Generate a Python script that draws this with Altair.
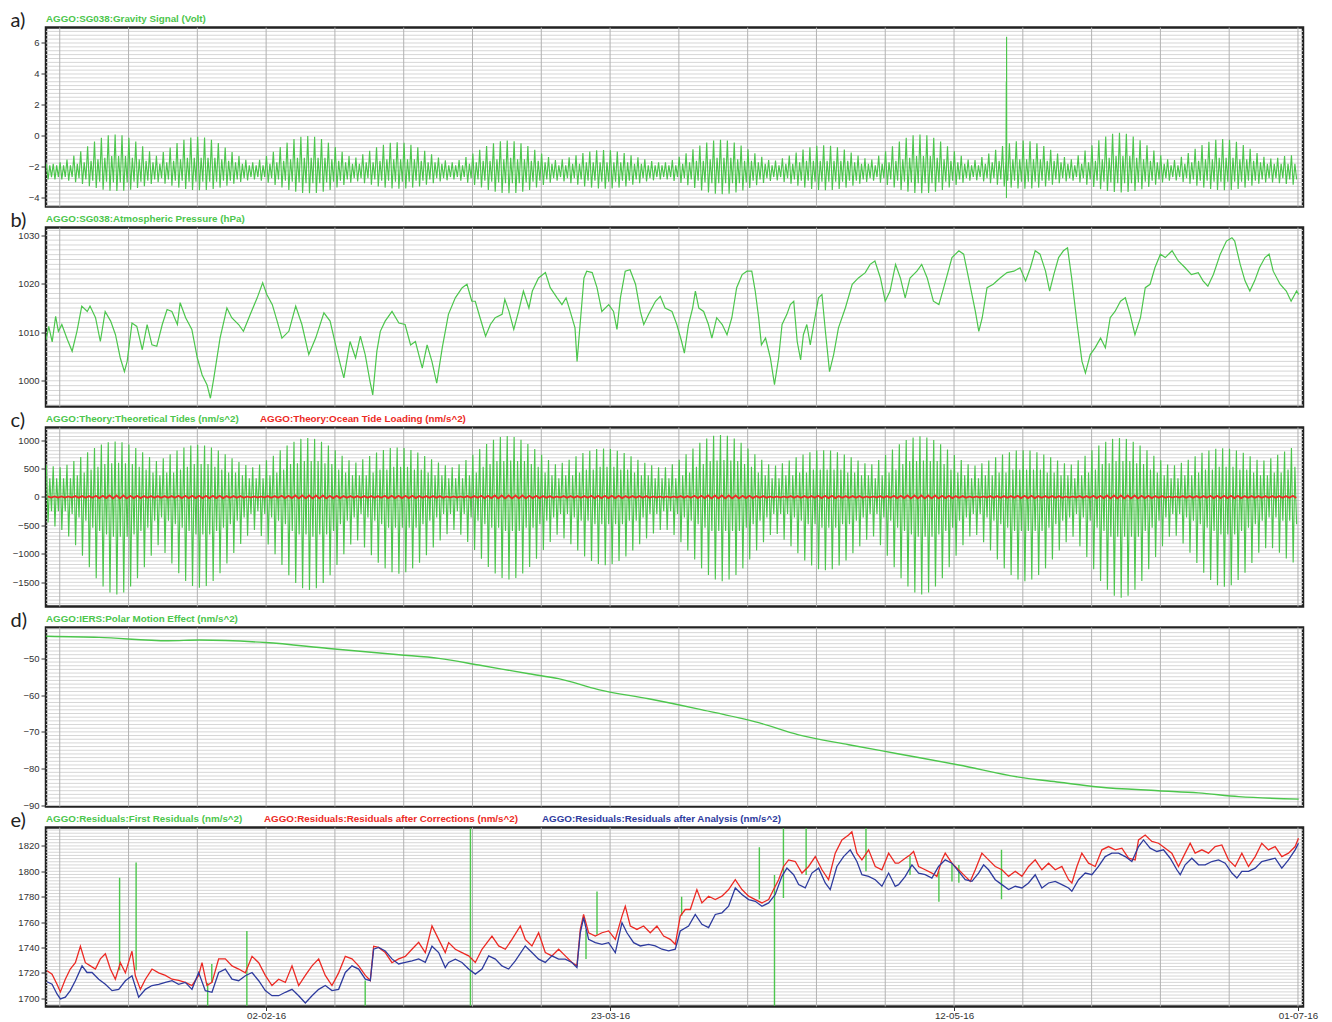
import altair as alt
import numpy as np
import pandas as pd

START = pd.Timestamp("2016-01-01")
GREEN = "#4cc64c"
RED = "#ec2a24"
BLUE = "#2e3b9e"
W, H = 1257, 179
FONT = "Liberation Sans"

# ---------------- a) gravity signal, daily extremes (Volt) ----------------
grav_hi = [
    -1.8, -1.8, -1.7, -1.52, -1.27, -0.98, -0.66, -0.35, -0.12, 0.05,
    0.1, 0.05, -0.12, -0.35, -0.66, -0.98, -1.27, -1.04, -0.74, -0.46,
    -0.25, -0.1, -0.05, -0.1, -0.25, -0.46, -0.74, -1.04, -1.3, -1.54,
    -1.7, -1.53, -1.29, -1.02, -0.71, -0.43, -0.2, -0.05, 0.0, -0.05,
    -0.2, -0.43, -0.71, -1.02, -1.29, -1.39, -1.18, -0.95, -0.73, -0.56,
    -0.44, -0.4, -0.44, -0.56, -0.73, -0.95, -1.18, -1.39, -1.57, -1.7,
    -1.56, -1.36, -1.14, -0.89, -0.65, -0.47, -0.34, -0.3, -0.34, -0.47,
    -0.65, -0.89, -1.14, -1.36, -1.56, -1.51, -1.38, -1.24, -1.1, -1.0,
    -0.92, -0.9, -0.92, -1.0, -1.1, -1.24, -1.38, -1.51, -1.62, -1.7,
    -1.7, -1.56, -1.35, -1.12, -0.86, -0.61, -0.42, -0.29, -0.25, -0.29,
    -0.42, -0.61, -0.86, -1.12, -1.35, -1.56, -1.59, -1.44, -1.26, -1.06,
    -0.88, -0.73, -0.63, -0.6, -0.63, -0.73, -0.88, -1.06, -1.26, -1.44,
    -1.52, -1.27, -0.98, -0.66, -0.35, -0.12, 0.05, 0.1, 0.05, -0.12,
    -0.35, -0.66, -0.98, -1.27, -1.52, -1.56, -1.36, -1.14, -0.89, -0.65,
    -0.47, -0.34, -0.3, -0.34, -0.47, -0.65, -0.89, -1.14, -1.36, -1.51,
    -1.24, -0.94, -0.6, -0.28, -0.03, 0.14, 0.2, 0.14, -0.03, -0.28,
    -0.6, -0.94, -1.24, -1.51, -1.55, -1.34, -1.1, -0.83, -0.58, -0.38,
    -0.25, -0.2, -0.25, -0.38, -0.58, -0.83, -1.1, -1.34, -1.45, -1.4,
    -1.3, -1.25,
]
grav_lo = [
    -2.8, -2.8, -2.8, -2.88, -2.98, -3.1, -3.24, -3.36, -3.46, -3.53,
    -3.55, -3.53, -3.46, -3.36, -3.24, -3.1, -2.98, -3.08, -3.21, -3.33,
    -3.42, -3.48, -3.5, -3.48, -3.42, -3.33, -3.21, -3.08, -2.97, -2.87,
    -2.8, -2.89, -3.02, -3.16, -3.32, -3.48, -3.59, -3.67, -3.7, -3.67,
    -3.59, -3.48, -3.32, -3.16, -3.02, -2.94, -3.04, -3.15, -3.25, -3.33,
    -3.38, -3.4, -3.38, -3.33, -3.25, -3.15, -3.04, -2.94, -2.86, -2.8,
    -2.89, -3.02, -3.16, -3.32, -3.48, -3.59, -3.67, -3.7, -3.67, -3.59,
    -3.48, -3.32, -3.16, -3.02, -2.89, -2.94, -3.04, -3.15, -3.25, -3.33,
    -3.38, -3.4, -3.38, -3.33, -3.25, -3.15, -3.04, -2.94, -2.86, -2.8,
    -2.8, -2.9, -3.03, -3.18, -3.35, -3.51, -3.64, -3.72, -3.75, -3.72,
    -3.64, -3.51, -3.35, -3.18, -3.03, -2.9, -2.87, -2.97, -3.08, -3.21,
    -3.33, -3.42, -3.48, -3.5, -3.48, -3.42, -3.33, -3.21, -3.08, -2.97,
    -2.89, -3.02, -3.16, -3.32, -3.48, -3.59, -3.67, -3.7, -3.67, -3.59,
    -3.48, -3.32, -3.16, -3.02, -2.89, -2.86, -2.94, -3.04, -3.15, -3.25,
    -3.33, -3.38, -3.4, -3.38, -3.33, -3.25, -3.15, -3.04, -2.94, -2.89,
    -3.0, -3.14, -3.29, -3.44, -3.55, -3.62, -3.65, -3.62, -3.55, -3.44,
    -3.29, -3.14, -3.0, -2.89, -2.87, -2.97, -3.08, -3.21, -3.33, -3.42,
    -3.48, -3.5, -3.48, -3.42, -3.33, -3.21, -3.08, -3.0, -3.0, -3.05,
    -3.1, -3.15,
]
grav_hi2 = [
    -1.9, -1.9, -1.9, -1.9, -1.8, -1.7, -1.6, -1.5, -1.4, -1.3,
    -1.3, -1.3, -1.4, -1.5, -1.6, -1.7, -1.8, -1.7, -1.6, -1.5,
    -1.4, -1.4, -1.4, -1.4, -1.4, -1.5, -1.6, -1.7, -1.8, -1.9,
    -1.9, -1.9, -1.8, -1.7, -1.6, -1.5, -1.4, -1.4, -1.4, -1.4,
    -1.4, -1.5, -1.6, -1.7, -1.8, -1.8, -1.7, -1.7, -1.6, -1.5,
    -1.5, -1.5, -1.5, -1.5, -1.6, -1.7, -1.7, -1.8, -1.9, -1.9,
    -1.9, -1.8, -1.7, -1.6, -1.6, -1.5, -1.5, -1.4, -1.5, -1.5,
    -1.6, -1.6, -1.7, -1.8, -1.9, -1.9, -1.8, -1.8, -1.7, -1.7,
    -1.7, -1.7, -1.7, -1.7, -1.7, -1.8, -1.8, -1.9, -1.9, -1.9,
    -1.9, -1.9, -1.8, -1.7, -1.6, -1.6, -1.5, -1.4, -1.4, -1.4,
    -1.5, -1.6, -1.6, -1.7, -1.8, -1.9, -1.9, -1.8, -1.8, -1.7,
    -1.6, -1.6, -1.6, -1.6, -1.6, -1.6, -1.6, -1.7, -1.8, -1.8,
    -1.9, -1.8, -1.7, -1.6, -1.5, -1.4, -1.3, -1.3, -1.3, -1.4,
    -1.5, -1.6, -1.7, -1.8, -1.9, -1.9, -1.8, -1.7, -1.6, -1.6,
    -1.5, -1.5, -1.5, -1.5, -1.5, -1.6, -1.6, -1.7, -1.8, -1.9,
    -1.8, -1.7, -1.6, -1.5, -1.4, -1.3, -1.3, -1.3, -1.4, -1.5,
    -1.6, -1.7, -1.8, -1.9, -1.9, -1.8, -1.7, -1.6, -1.5, -1.5,
    -1.4, -1.4, -1.4, -1.5, -1.5, -1.6, -1.7, -1.8, -1.8, -1.8,
    -1.8, -1.8,
]
grav_lo2 = [
    -2.65, -2.65, -2.65, -2.65, -2.72, -2.8, -2.88, -2.95, -2.95, -3.0,
    -3.0, -3.0, -2.95, -2.95, -2.88, -2.8, -2.72, -2.8, -2.88, -2.88,
    -2.95, -2.95, -2.95, -2.95, -2.95, -2.88, -2.88, -2.8, -2.72, -2.65,
    -2.65, -2.65, -2.72, -2.8, -2.88, -2.95, -3.0, -3.05, -3.05, -3.05,
    -3.0, -2.95, -2.88, -2.8, -2.72, -2.72, -2.72, -2.8, -2.88, -2.88,
    -2.95, -2.95, -2.95, -2.88, -2.88, -2.8, -2.72, -2.72, -2.65, -2.65,
    -2.65, -2.72, -2.8, -2.88, -2.95, -3.0, -3.05, -3.05, -3.05, -3.0,
    -2.95, -2.88, -2.8, -2.72, -2.65, -2.72, -2.72, -2.8, -2.88, -2.88,
    -2.95, -2.95, -2.95, -2.88, -2.88, -2.8, -2.72, -2.72, -2.65, -2.65,
    -2.65, -2.65, -2.72, -2.8, -2.88, -3.0, -3.05, -3.05, -3.05, -3.05,
    -3.05, -3.0, -2.88, -2.8, -2.72, -2.65, -2.65, -2.72, -2.8, -2.88,
    -2.88, -2.95, -2.95, -2.95, -2.95, -2.95, -2.88, -2.88, -2.8, -2.72,
    -2.65, -2.72, -2.8, -2.88, -2.95, -3.0, -3.05, -3.05, -3.05, -3.0,
    -2.95, -2.88, -2.8, -2.72, -2.65, -2.65, -2.72, -2.72, -2.8, -2.88,
    -2.88, -2.95, -2.95, -2.95, -2.88, -2.88, -2.8, -2.72, -2.72, -2.65,
    -2.72, -2.8, -2.88, -2.95, -3.0, -3.05, -3.05, -3.05, -3.0, -2.95,
    -2.88, -2.8, -2.72, -2.65, -2.65, -2.72, -2.8, -2.88, -2.88, -2.95,
    -2.95, -2.95, -2.95, -2.95, -2.88, -2.88, -2.8, -2.72, -2.72, -2.72,
    -2.8, -2.8,
]
# instrument disturbance around 19 May
grav_spike_day = [139.60, 139.62, 139.64, 139.66]
grav_spike_val = [3.5, -4.0, 6.4, -2.5]

# ---------------- b) atmospheric pressure (hPa) ----------------
pres_day = [
    0.0, 0.4, 0.9, 1.4, 1.8, 2.3, 3.1, 3.8, 4.5, 5.2, 6.0, 6.4, 7.2, 7.9, 8.6, 9.4, 10.1, 10.8,
    11.4, 11.8, 12.5, 13.2, 14.0, 14.7, 15.4, 16.1, 16.9, 17.6, 18.3, 19.1, 19.5, 20.3, 21.2,
    22.0, 22.7, 23.4, 23.9, 24.4, 25.3, 26.3, 27.0, 28.0, 28.7, 29.7, 30.7, 31.5, 32.1, 32.9,
    33.6, 34.3, 35.3, 36.3, 37.2, 38.2, 39.2, 40.4, 41.3, 42.1, 42.8, 43.3, 44.2, 45.0, 45.7,
    46.4, 47.1, 47.5, 48.1, 48.6, 49.3, 50.3, 51.3, 52.2, 53.0, 53.7, 54.7, 55.4, 56.1, 56.8,
    57.6, 58.5, 59.5, 60.5, 61.2, 61.9,
    62.4, 63.1, 63.9, 64.6, 65.3, 66.3, 66.7, 67.3, 68.0, 68.7, 69.4, 70.2, 70.7, 71.6, 72.6,
    73.3, 74.3, 75.0, 75.6, 76.2, 76.9, 77.2, 77.4, 78.2, 78.6, 79.4, 80.1, 80.8, 81.8, 82.5,
    83.0, 83.5, 84.2, 84.9, 85.7, 86.4, 86.9, 87.6, 88.6, 89.3, 90.0, 91.0, 91.7, 92.4, 92.8,
    93.4, 94.0, 94.4, 94.9, 95.6, 96.3, 96.8, 97.5, 98.3, 99.0, 99.7, 100.4, 101.2, 101.9,
    102.6, 103.1, 103.6, 104.0, 104.6, 105.3, 105.9, 106.5, 107.0, 107.7, 108.2, 108.7, 109.2,
    109.7, 110.1, 110.6, 111.1, 111.6, 112.3, 112.8, 113.3, 113.9, 114.5, 115.2, 116.2, 117.2,
    118.1, 119.1, 119.8, 120.5, 121.3, 122.0, 122.7, 123.5, 124.2, 124.9,
    125.6, 126.6, 127.3, 128.1, 129.0, 129.8, 130.5, 131.7, 132.7, 133.4, 134.4, 135.1, 135.6,
    136.1, 136.8, 137.7, 138.7, 139.7, 140.7, 141.6, 142.4, 143.1, 143.8, 144.5, 145.3, 145.9,
    146.5, 147.2, 147.9, 148.5, 149.1, 149.9, 150.6, 151.1, 151.8, 152.5, 153.3, 154.0, 154.7,
    155.4, 156.2, 156.9, 157.6, 158.3, 159.1, 159.8, 160.5, 161.2, 162.0, 162.7, 163.7, 164.6,
    165.6, 166.5, 167.5, 168.2, 168.9, 169.7, 170.7, 171.6, 172.4, 172.8, 173.6, 174.3, 175.0,
    175.7, 176.4, 177.2, 177.8, 178.4, 179.4, 180.3, 181.0, 181.8, 182.1,
]
pres_val = [
    1008.4, 1011.2, 1008.0, 1013.3, 1010.2, 1011.6, 1008.5, 1006.1, 1010.2, 1015.4, 1014.3, 1015.4,
    1013.0, 1008.1, 1014.3, 1012.3, 1009.5, 1004.7, 1001.9, 1004.0, 1011.9, 1011.2, 1006.4, 1011.6,
    1007.4, 1007.1, 1011.6, 1014.7, 1014.3, 1011.6, 1016.1, 1013.0, 1010.6, 1004.7, 1001.2, 999.2,
    996.4, 1000.6, 1008.8, 1015.0, 1013.0, 1011.6, 1010.2, 1013.7, 1017.1, 1020.2, 1017.8, 1015.7,
    1012.3, 1008.8, 1010.2, 1015.4, 1011.6, 1005.4, 1008.8, 1014.0, 1012.3, 1007.4, 1003.3, 1000.6,
    1008.1, 1004.7, 1009.2, 1005.4, 999.9, 997.1, 1006.1, 1010.2, 1012.3, 1014.3, 1011.9, 1011.6,
    1007.4, 1008.1, 1002.6, 1007.4, 1004.0, 999.5, 1006.8, 1013.7, 1017.1, 1019.2, 1019.9, 1016.4,
    1016.4, 1013.0, 1009.2, 1011.6, 1013.0, 1013.7, 1016.8, 1014.3, 1010.6, 1014.3, 1018.5, 1015.0,
    1018.5, 1021.2, 1022.3, 1019.2, 1017.1, 1015.7, 1017.1, 1014.3, 1010.9, 1004.0, 1007.4, 1021.2,
    1022.6, 1022.3, 1019.2, 1014.3, 1015.7, 1014.3, 1010.6, 1017.1, 1022.6, 1022.9, 1019.9, 1014.3,
    1011.6, 1013.7, 1016.4, 1017.4, 1015.0, 1014.3, 1011.6, 1008.1, 1005.7, 1011.6, 1015.0, 1018.5,
    1015.0, 1014.3, 1011.6, 1008.8, 1013.0, 1011.6, 1009.5, 1013.0, 1019.2, 1021.9, 1022.6, 1022.6,
    1018.5, 1013.0, 1007.4, 1008.8, 1004.7, 999.2, 1004.7, 1011.6, 1013.7, 1015.7, 1016.4, 1008.1,
    1004.3, 1009.5, 1011.6, 1007.4, 1011.6, 1017.1, 1017.8, 1010.2, 1001.9, 1005.4, 1010.9, 1015.0,
    1019.9, 1021.2, 1022.3, 1024.0, 1024.7, 1021.2, 1016.4, 1018.5, 1024.0, 1021.2, 1017.1,
    1021.2, 1022.6, 1024.0, 1021.2, 1016.4, 1015.7, 1019.2, 1025.4, 1026.8, 1026.1, 1019.2, 1014.3,
    1010.2, 1013.0, 1019.2, 1019.9, 1021.2, 1022.3, 1022.6, 1023.3, 1020.6, 1023.3, 1026.8, 1026.1,
    1022.6, 1018.5, 1021.9, 1025.4, 1026.8, 1027.4, 1021.2, 1011.6, 1004.0, 1001.6, 1005.4, 1006.8,
    1008.8, 1006.8, 1013.0, 1014.3, 1016.4, 1017.1, 1013.7, 1009.5, 1013.0, 1019.2, 1019.9, 1023.3,
    1026.1, 1025.4, 1026.8, 1024.7, 1023.3, 1021.9, 1022.3, 1020.6, 1019.5, 1021.9, 1026.1, 1028.8,
    1029.5, 1028.8, 1024.0, 1020.6, 1018.5, 1020.6, 1023.3, 1025.4, 1026.1, 1022.6, 1019.9, 1018.5,
    1016.4, 1018.5, 1017.8,
]

# ---------------- c) theoretical tides and ocean loading (nm/s^2) ----------------
tide_hi = [
    560, 540, 520, 565, 630, 700, 785, 860, 920, 960,
    975, 960, 920, 860, 785, 700, 630, 680, 750, 815,
    870, 905, 915, 905, 870, 815, 750, 680, 615, 560,
    520, 570, 645, 725, 820, 905, 970, 1020, 1035, 1020,
    970, 905, 820, 725, 645, 605, 660, 720, 780, 825,
    860, 870, 860, 825, 780, 720, 660, 605, 555, 520,
    575, 650, 740, 840, 930, 1005, 1055, 1070, 1055, 1005,
    930, 840, 740, 650, 575, 600, 655, 715, 770, 810,
    840, 850, 840, 810, 770, 715, 655, 600, 555, 520,
    520, 575, 655, 750, 850, 950, 1025, 1075, 1090, 1075,
    1025, 950, 850, 750, 655, 575, 550, 590, 640, 695,
    745, 785, 815, 820, 815, 785, 745, 695, 640, 590,
    575, 650, 735, 835, 925, 1000, 1045, 1065, 1045, 1000,
    925, 835, 735, 650, 575, 550, 590, 640, 695, 745,
    785, 815, 820, 815, 785, 745, 695, 640, 590, 570,
    645, 725, 820, 905, 970, 1020, 1035, 1020, 970, 905,
    820, 725, 645, 570, 555, 600, 655, 715, 775, 815,
    845, 855, 845, 815, 775, 715, 655, 640, 680, 740,
    800, 860,
]
tide_lo = [
    -450, -520, -580, -695, -850, -1035, -1235, -1430, -1575, -1680,
    -1715, -1680, -1575, -1430, -1235, -1035, -850, -985, -1170, -1340,
    -1475, -1565, -1595, -1565, -1475, -1340, -1170, -985, -825, -680,
    -580, -685, -835, -1005, -1195, -1375, -1510, -1605, -1635, -1605,
    -1510, -1375, -1195, -1005, -835, -765, -890, -1025, -1155, -1255,
    -1325, -1350, -1325, -1255, -1155, -1025, -890, -765, -655, -580,
    -665, -790, -930, -1085, -1230, -1345, -1425, -1450, -1425, -1345,
    -1230, -1085, -930, -790, -665, -730, -830, -940, -1045, -1125,
    -1180, -1200, -1180, -1125, -1045, -940, -830, -730, -640, -580,
    -580, -670, -795, -940, -1100, -1255, -1370, -1450, -1480, -1450,
    -1370, -1255, -1100, -940, -795, -670, -650, -750, -865, -990,
    -1115, -1205, -1270, -1290, -1270, -1205, -1115, -990, -865, -750,
    -695, -850, -1035, -1235, -1430, -1575, -1680, -1715, -1680, -1575,
    -1430, -1235, -1035, -850, -695, -670, -795, -940, -1100, -1255,
    -1370, -1450, -1480, -1450, -1370, -1255, -1100, -940, -795, -700,
    -865, -1055, -1270, -1475, -1630, -1735, -1770, -1735, -1630, -1475,
    -1270, -1055, -865, -700, -680, -820, -980, -1160, -1330, -1460,
    -1550, -1580, -1550, -1460, -1330, -1160, -980, -900, -900, -980,
    -1080, -1150,
]
tide_hi2 = [
    330, 330, 330, 330, 380, 430, 480, 530, 580, 590,
    600, 590, 580, 530, 480, 430, 380, 430, 430, 480,
    530, 580, 580, 580, 530, 480, 430, 430, 380, 330,
    330, 330, 380, 430, 480, 580, 590, 630, 630, 630,
    590, 580, 480, 430, 380, 380, 380, 430, 480, 480,
    530, 530, 530, 480, 480, 430, 380, 380, 330, 330,
    330, 380, 430, 530, 580, 630, 630, 640, 630, 630,
    580, 530, 430, 380, 330, 380, 380, 430, 480, 480,
    530, 530, 530, 480, 480, 430, 380, 380, 330, 330,
    330, 330, 380, 430, 530, 580, 630, 640, 650, 640,
    630, 580, 530, 430, 380, 330, 330, 380, 380, 430,
    430, 480, 480, 480, 480, 480, 430, 430, 380, 380,
    330, 380, 430, 480, 580, 630, 630, 640, 630, 630,
    580, 480, 430, 380, 330, 330, 380, 380, 430, 430,
    480, 480, 480, 480, 480, 430, 430, 380, 380, 330,
    380, 430, 480, 580, 590, 630, 630, 630, 590, 580,
    480, 430, 380, 330, 330, 380, 380, 430, 480, 480,
    530, 530, 530, 480, 480, 430, 380, 380, 430, 430,
    480, 530,
]
tide_lo2 = [
    -250, -250, -250, -300, -360, -420, -540, -600, -660, -700,
    -700, -700, -660, -600, -540, -420, -360, -420, -480, -540,
    -600, -660, -660, -660, -600, -540, -480, -420, -360, -300,
    -250, -300, -360, -420, -480, -600, -660, -660, -700, -660,
    -660, -600, -480, -420, -360, -300, -360, -420, -480, -540,
    -540, -540, -540, -540, -480, -420, -360, -300, -300, -250,
    -300, -360, -420, -480, -540, -540, -600, -600, -600, -540,
    -540, -480, -420, -360, -300, -300, -360, -420, -420, -480,
    -480, -480, -480, -480, -420, -420, -360, -300, -300, -250,
    -250, -300, -360, -420, -480, -540, -600, -600, -600, -600,
    -600, -540, -480, -420, -360, -300, -300, -300, -360, -420,
    -480, -480, -540, -540, -540, -480, -480, -420, -360, -300,
    -300, -360, -420, -540, -600, -660, -700, -700, -700, -660,
    -600, -540, -420, -360, -300, -300, -360, -420, -480, -540,
    -600, -600, -600, -600, -600, -540, -480, -420, -360, -300,
    -360, -420, -540, -600, -700, -700, -700, -700, -700, -600,
    -540, -420, -360, -300, -300, -360, -420, -480, -540, -600,
    -660, -660, -660, -600, -540, -480, -420, -360, -360, -420,
    -420, -480,
]
loading_amp = [
    10, 10, 10, 10, 15, 15, 15, 20, 20, 25,
    25, 25, 20, 20, 15, 15, 15, 15, 15, 20,
    20, 20, 20, 20, 20, 20, 15, 15, 15, 10,
    10, 10, 15, 15, 20, 20, 25, 25, 25, 25,
    25, 20, 20, 15, 15, 15, 15, 15, 15, 20,
    20, 20, 20, 20, 15, 15, 15, 15, 10, 10,
    10, 15, 15, 20, 20, 25, 25, 25, 25, 25,
    20, 20, 15, 15, 10, 15, 15, 15, 15, 20,
    20, 20, 20, 20, 15, 15, 15, 15, 10, 10,
    10, 10, 15, 15, 20, 20, 25, 25, 25, 25,
    25, 20, 20, 15, 15, 10, 10, 10, 15, 15,
    15, 15, 20, 20, 20, 15, 15, 15, 15, 10,
    10, 15, 15, 20, 20, 25, 25, 25, 25, 25,
    20, 20, 15, 15, 10, 10, 10, 15, 15, 15,
    15, 20, 20, 20, 15, 15, 15, 15, 10, 10,
    15, 15, 20, 20, 25, 25, 25, 25, 25, 20,
    20, 15, 15, 10, 10, 15, 15, 15, 15, 20,
    20, 20, 20, 20, 15, 15, 15, 15, 15, 15,
    15, 20,
]

# ---------------- d) polar motion effect (nm/s^2) ----------------
polar_day = [0, 7.7, 17.8, 22.3, 31.9, 41.1, 51.3, 57.1, 62.9, 70.2, 74.5, 80.3, 87.6,
             94.9, 103.6, 109.4, 116.7, 124.0, 132.7, 141.4, 147.3, 153.0, 161.7, 167.5,
             173.4, 182.1]
polar_val = [-44.0, -44.3, -45.2, -45.0, -45.7, -47.3, -49.0, -50.0, -51.8, -54.2, -55.5,
             -58.5, -61.0, -63.8, -67.5, -70.8, -73.5, -76.0, -79.0, -82.3, -83.7, -85.0,
             -86.0, -86.6, -87.6, -88.3]

# ---------------- e) residuals (nm/s^2) ----------------
corr_day = [
    0.15, 0.88, 1.6, 2.09, 2.81, 3.53, 4.27, 5.0, 5.72, 6.45, 7.18, 7.9, 8.63, 9.36, 10.08,
    10.81, 11.54, 12.26, 12.5, 12.99, 13.72, 14.45, 15.41, 16.38, 17.35, 18.32, 19.28, 20.25,
    21.22, 22.19, 22.68, 23.4, 24.13, 25.1, 26.07, 27.04, 28.01, 28.98, 29.95, 30.92, 31.88,
    32.85, 33.82, 34.79, 35.76, 36.73, 37.7, 38.67, 39.64, 40.6, 41.57, 42.54, 43.51, 44.48,
    45.45, 46.42, 47.14, 47.63, 48.35, 49.32, 50.29, 51.26, 52.23, 53.2, 54.17, 55.14, 56.11,
    57.08, 58.04,
    58.53, 59.5, 60.47, 61.44, 62.41, 63.38, 64.83, 65.8, 66.77, 67.74, 68.95, 69.67, 70.64,
    71.61, 72.58, 73.55, 74.52, 75.49, 76.46, 77.18, 77.67, 78.15, 78.88, 79.85, 80.82, 81.79,
    82.76, 83.73, 84.21, 84.94, 85.9, 86.87, 87.84, 88.81, 89.78, 90.75, 91.48, 92.2, 92.93,
    93.66, 94.62, 95.35, 96.32, 97.29, 98.26, 99.23, 100.2, 101.17, 102.14, 103.11, 104.08,
    105.05, 105.77, 106.5, 107.22, 107.95, 108.92, 109.89, 110.86, 111.83, 112.8, 113.76,
    114.73, 115.7, 116.67, 117.15, 117.88, 118.61, 119.58, 120.55, 121.52, 122.49, 123.45,
    123.94, 124.91, 125.63, 126.12, 126.85, 127.81, 128.78, 129.51, 130.24, 130.72, 131.69,
    132.66, 133.63, 134.36, 135.09, 136.05, 137.02, 137.99, 138.96, 139.93, 140.9, 141.87,
    142.83, 143.8, 144.77, 145.74, 146.71, 147.68, 148.65, 149.13, 149.86, 150.58, 151.55,
    152.52, 153.49, 154.46, 155.43, 156.4, 157.36, 158.33, 158.82, 159.79, 160.76, 161.73,
    162.7, 163.66, 164.63, 165.6, 166.33, 167.05, 168.03, 168.99, 169.96, 170.93, 171.9,
    172.87, 173.84, 174.81, 175.78, 176.74, 177.71, 178.68, 179.65, 180.62, 181.59, 182.07,
]
corr_val = [
    1721.6, 1719, 1711, 1705, 1715, 1723, 1728, 1741, 1728, 1725.5, 1723, 1731, 1735, 1723,
    1715, 1728, 1720, 1733, 1737, 1717.7, 1707, 1715, 1723, 1720, 1718, 1715, 1714, 1712.5,
    1710, 1718, 1728, 1710, 1712.5, 1731, 1731, 1725.5, 1723, 1720, 1733, 1728, 1718, 1710,
    1715, 1712.5, 1725.5, 1710, 1718, 1725.5, 1731, 1718, 1710, 1720, 1733, 1731, 1725.5,
    1718, 1714, 1741, 1740, 1736, 1728, 1731, 1733, 1738.6, 1744, 1736, 1757, 1746.4, 1736,
    1743.8, 1738.6, 1736, 1733.4, 1728.2, 1738.6, 1749, 1741.2, 1738.6, 1746.4, 1756.9, 1746.4,
    1741.2, 1751.6, 1736, 1733.4, 1738.6, 1733.4, 1728.2, 1725.5, 1754.2, 1766, 1751.6, 1749,
    1751.6, 1753, 1746.4, 1764.7, 1772.5, 1756.9, 1754.2, 1756.9, 1751.6, 1756.9, 1749, 1746.4,
    1742.5, 1764.7, 1769.9, 1769.9, 1785.6, 1775.1, 1780.4, 1777.7, 1780.4, 1785.6, 1793.4,
    1785.6, 1780.4, 1777.7, 1775.1, 1777.7, 1785.6, 1793.4, 1803.8, 1809, 1807.7, 1798.6,
    1803.8, 1811.6, 1801.2, 1793.4, 1814.3, 1824.7, 1828.6, 1831.2, 1814.3, 1809, 1816.9,
    1803.8, 1801.2, 1814.3, 1806.4,
    1806.4, 1810.3, 1813, 1815.6, 1803.8, 1801.2, 1798.6, 1796, 1809, 1814.3, 1806.4, 1801.2,
    1796, 1792.1, 1801.2, 1814.3, 1809, 1803.8, 1801.2, 1796, 1800, 1796, 1803.8, 1809, 1801.2,
    1806.4, 1801.2, 1803.8, 1793.4, 1790.8, 1803.8, 1814.3, 1806.4, 1803.8, 1816.9, 1819.5,
    1816.9, 1818.2, 1810.3, 1809, 1824.7, 1828.6, 1823.5, 1822.1, 1818.2, 1814.3, 1803.8,
    1814.3, 1822.1, 1814.3, 1816.9, 1814.3, 1819.5, 1820.8, 1809, 1803.8, 1814.3, 1803.8,
    1811.6, 1822.1, 1816.9, 1819.5, 1811.6, 1814.3, 1819.5, 1826,
]
anal_day = [
    0.15, 0.88, 1.6, 2.09, 2.81, 3.53, 4.27, 5.24, 5.96, 6.69, 7.66, 8.63, 9.6, 10.57, 11.54,
    12.5, 13.47, 14.45, 15.41, 16.38, 17.35, 18.32, 19.28, 20.25, 21.22, 22.19, 23.16, 24.13,
    25.1, 26.07, 27.04, 28.01, 28.98, 29.95, 30.92, 31.88, 32.85, 33.82, 34.79, 35.76, 36.73,
    37.7, 38.67, 39.64, 40.6, 41.57, 42.54, 43.51, 44.48, 45.45, 46.42, 47.14, 47.63, 48.35,
    49.32, 50.29, 51.26, 52.23, 53.2, 54.17, 55.14, 56.11, 57.08, 58.04,
    58.53, 59.5, 60.47, 61.44, 62.41, 63.38, 64.35, 65.32, 66.28, 67.25, 68.22, 69.67, 70.64,
    71.61, 72.58, 73.55, 74.52, 75.49, 76.46, 77.18, 77.67, 78.15, 78.88, 79.85, 80.82, 81.79,
    82.76, 83.73, 84.45, 85.42, 86.39, 87.6, 88.57, 89.54, 90.51, 91.48, 92.2, 93.41, 94.38,
    95.35, 96.32, 97.29, 98.26, 99.23, 100.2, 101.17, 102.14, 103.11, 104.08, 105.05, 106.01,
    106.98, 107.71, 108.68, 109.41, 110.37, 111.34, 112.31, 113.28, 114.0, 114.97, 115.94,
    116.91, 117.88, 118.61, 119.58, 120.55, 121.52, 122.49, 123.45,
    123.94, 124.91, 125.88, 126.85, 127.81, 128.78, 129.75, 130.72, 131.69, 132.66, 133.63,
    134.6, 135.57, 136.3, 137.02, 137.99, 138.96, 139.93, 140.9, 141.87, 142.83, 143.8, 144.77,
    145.74, 146.71, 147.68, 148.65, 149.13, 150.1, 151.07, 152.04, 153.0, 153.97, 154.94,
    155.91, 156.88, 157.85, 158.82, 159.54, 160.51, 161.48, 162.45, 163.42, 164.39, 164.88,
    165.6, 166.57, 167.54, 168.51, 169.48, 170.45, 171.42, 172.39, 173.12, 173.84, 174.81,
    175.78, 176.74, 177.71, 178.68, 179.65, 180.62, 181.59, 182.07,
]
anal_val = [
    1713, 1711, 1703.4, 1699.5, 1700.8, 1706, 1713.8, 1725.5, 1720.3, 1720.3, 1715, 1711, 1706,
    1707, 1713.8, 1717.7, 1700.8, 1707, 1710, 1711, 1712.5, 1713.8, 1711, 1712.5, 1707, 1720.3,
    1706, 1704.7, 1720.3, 1723, 1715, 1713.8, 1717.7, 1720.3, 1713.8, 1706, 1702, 1702, 1704.7,
    1707, 1702, 1696.3, 1702, 1707, 1710, 1706, 1707, 1720.3, 1725.5, 1723, 1715, 1713.8,
    1738.6, 1740, 1737.3, 1731, 1727, 1728.3, 1729.5, 1731, 1728.3, 1741, 1736, 1724.2,
    1728.2, 1730.8, 1728.2, 1723, 1719, 1723, 1733.4, 1730.8, 1725.5, 1723, 1729.5, 1741.2,
    1736, 1730.8, 1728.2, 1733.4, 1730.8, 1730.8, 1728.2, 1724.2, 1751.6, 1763.4, 1746.4,
    1743.8, 1742.5, 1743.8, 1736, 1759.5, 1751.6, 1743.8, 1741.2, 1742.5, 1741.2, 1738.6,
    1737.3, 1738.6, 1753, 1756.9, 1766, 1758.2, 1755.6, 1766, 1767.3, 1772.5, 1786.9, 1781.7,
    1777.7, 1776.4, 1772.5, 1775.1, 1781.7, 1796, 1802.5, 1797.3, 1789.5, 1786.9, 1798.6,
    1802.5, 1790.8, 1785.6, 1803.8, 1811.6, 1816.9, 1807.7, 1797.3, 1796, 1793.4, 1788.2,
    1798.6, 1788.2,
    1789.5, 1796, 1805.1, 1798.6, 1797.3, 1794.7, 1803.8, 1809, 1806.4, 1800, 1793.4, 1792.1,
    1798.6, 1805.1, 1801.2, 1793.4, 1789.5, 1785.6, 1788.2, 1786.9, 1790.8, 1797.3, 1786.9,
    1790.8, 1792.1, 1789.5, 1786.9, 1784.3, 1793.4, 1798.6, 1797.3, 1803.8, 1811.6, 1814.3,
    1814.3, 1811.6, 1807.7, 1819.5, 1824.7, 1818.2, 1815.6, 1816.9, 1810.3, 1801.2, 1797.3,
    1805.1, 1810.3, 1805.1, 1805.1, 1807.7, 1809, 1806.4, 1798.6, 1794.7, 1800, 1800, 1802.5,
    1807.7, 1809, 1810.3, 1802.5, 1809, 1816.9, 1822.1,
]
# first residuals: steps and spikes that stand out from the corrected series
first_spike_day = [10.7, 13.1, 23.5, 24.1, 29.2, 46.4, 61.7, 78.5, 80.1, 92.4, 103.7,
                   105.9, 107.2, 110.5, 119.2, 125.6, 129.8, 131.7, 132.7, 138.9]
first_spike_lo = [1722, 1722, 1694, 1712, 1694, 1694, 1694, 1731, 1750, 1765, 1778,
                  1694, 1779, 1797, 1800, 1797, 1776, 1792, 1791, 1778]
first_spike_hi = [1795, 1807, 1712, 1727, 1753, 1714, 1834, 1754, 1784, 1780, 1819,
                  1797, 1834, 1834, 1834, 1812, 1800, 1806, 1805, 1817]

TITLES = {
    "a": [("AGGO:SG038:Gravity Signal (Volt)", GREEN, 0)],
    "b": [("AGGO:SG038:Atmospheric Pressure (hPa)", GREEN, 0)],
    "c": [("AGGO:Theory:Theoretical Tides (nm/s^2)", GREEN, 0),
          ("AGGO:Theory:Ocean Tide Loading (nm/s^2)", RED, 214)],
    "d": [("AGGO:IERS:Polar Motion Effect (nm/s^2)", GREEN, 0)],
    "e": [("AGGO:Residuals:First Residuals (nm/s^2)", GREEN, 0),
          ("AGGO:Residuals:Residuals after Corrections (nm/s^2)", RED, 218),
          ("AGGO:Residuals:Residuals after Analysis (nm/s^2)", BLUE, 496)],
}


def at(days):
    return START + pd.to_timedelta(np.asarray(days, dtype=float), unit="D")


def series(days, vals):
    df = pd.DataFrame({"day": days, "v": vals}).sort_values("day")
    return pd.DataFrame({"t": at(df["day"]), "v": df["v"].to_numpy()})


def tide_frame(hi, lo, hi2, lo2, extra_day=(), extra_val=()):
    days, vals = [], []
    for d in range(len(hi)):
        days += [d + 0.05, d + 0.30, d + 0.55, d + 0.80]
        vals += [hi[d], lo[d], hi2[d], lo2[d]]
    return series(days + list(extra_day), vals + list(extra_val))


def loading_frame(amp):
    days, vals = [], []
    for d in range(len(amp)):
        days += [d + 0.25, d + 0.75]
        vals += [amp[d], -amp[d]]
    return series(days, vals)


X_DOMAIN = [alt.DateTime(year=2016, month=1, date=1),
            alt.DateTime(year=2016, month=7, date=1, hours=17, minutes=30)]
X_LABELS = [alt.DateTime(year=2016, month=2, date=2), alt.DateTime(year=2016, month=3, date=23),
            alt.DateTime(year=2016, month=5, date=12), alt.DateTime(year=2016, month=7, date=1)]


def panel(letter, ydom, yticks, ystep, marks, bottom=False):
    yscale = alt.Scale(domain=ydom, nice=False, zero=False)
    yaxis = alt.Axis(values=yticks, format="d", grid=False, ticks=True, domain=False, title=None)
    if bottom:
        xaxis = alt.Axis(values=X_LABELS, format="%d-%m-%y", grid=False, ticks=True,
                         domain=False, title=None, labelFontSize=9.8, labelPadding=0,
                         tickSize=4)
    else:
        xaxis = None
    xenc = alt.X("t:T", scale=alt.Scale(domain=X_DOMAIN), axis=xaxis, title=None)

    first = np.ceil(ydom[0] / ystep) * ystep
    hgrid_df = pd.DataFrame({"v": np.arange(first, ydom[1], ystep)})
    hgrid = alt.Chart(hgrid_df).mark_rule(color="#d6d6d6", strokeWidth=1).encode(
        y=alt.Y("v:Q", scale=yscale, axis=yaxis, title=None))
    vgrid = alt.Chart(pd.DataFrame({"t": at(range(2, 183, 10))})).mark_rule(
        color="#b2b2b2", strokeWidth=1).encode(x=xenc)

    layers = [hgrid, vgrid]
    for df, kind, color, width in marks:
        if kind == "rule":
            layers.append(alt.Chart(df).mark_rule(color=color, strokeWidth=width, clip=True).encode(
                x=xenc, y=alt.Y("lo:Q", scale=yscale, axis=yaxis, title=None), y2="hi:Q"))
        else:
            interp = "monotone" if kind == "smooth" else "linear"
            layers.append(alt.Chart(df).mark_line(color=color, strokeWidth=width, clip=True,
                                                  interpolate=interp).encode(
                x=xenc, y=alt.Y("v:Q", scale=yscale, axis=yaxis, title=None)))

    for text, color, offset in TITLES[letter]:
        layers.append(alt.Chart(pd.DataFrame({"s": [text]})).mark_text(
            align="left", baseline="alphabetic", font=FONT, fontSize=9.8, fontWeight="bold",
            color=color).encode(x=alt.value(offset), y=alt.value(-6), text="s:N"))
    layers.append(alt.Chart(pd.DataFrame({"s": [letter + ")"]})).mark_text(
        align="left", baseline="alphabetic", font="Lato", fontSize=20, color="#222222").encode(
        x=alt.value(-35.5), y=alt.value(-1), text="s:N"))

    return alt.layer(*layers).properties(width=W, height=H)


grav_df = tide_frame(grav_hi, grav_lo, grav_hi2, grav_lo2, grav_spike_day, grav_spike_val)
pres_df = series(pres_day, pres_val)
tide_df = tide_frame(tide_hi, tide_lo, tide_hi2, tide_lo2)
load_df = loading_frame(loading_amp)
polar_df = series(polar_day, polar_val)
corr_df = series(corr_day, corr_val)
anal_df = series(anal_day, anal_val)
spike_df = pd.DataFrame({"t": at(first_spike_day), "lo": first_spike_lo, "hi": first_spike_hi})

pa = panel("a", [-4.55, 7.0], [-4, -2, 0, 2, 4, 6], 0.25,
           [(grav_df, "line", GREEN, 1.15)])
pb = panel("b", [994.7, 1031.6], [1000, 1010, 1020, 1030], 1,
           [(pres_df, "line", GREEN, 1.2)])
pc = panel("c", [-1925, 1220], [-1500, -1000, -500, 0, 500, 1000], 62.5,
           [(tide_df, "line", GREEN, 1.15), (load_df, "line", RED, 1.8)])
pdd = panel("d", [-90.3, -41.6], [-90, -80, -70, -60, -50], 1,
            [(polar_df, "smooth", GREEN, 1.4)])
pe = panel("e", [1693.5, 1834.5], [1700, 1720, 1740, 1760, 1780, 1800, 1820], 2.5,
           [(spike_df, "rule", GREEN, 1.4), (corr_df, "line", RED, 1.3),
            (anal_df, "line", BLUE, 1.3)], bottom=True)

chart = alt.vconcat(pa, pb, pc, pdd, pe, spacing=21, bounds="flush").properties(
    padding={"left": 9, "top": 8.5, "right": 10, "bottom": 2},
    background="white",
).configure_view(
    stroke="#222222", strokeWidth=2.5
).configure_axis(
    labelFont=FONT, labelFontSize=9.5, labelColor="#333333", tickColor="#333333",
    tickSize=5, labelPadding=2, grid=False, domain=False,
)

chart.save("out.html", embed_options={"renderer": "svg", "actions": False})
